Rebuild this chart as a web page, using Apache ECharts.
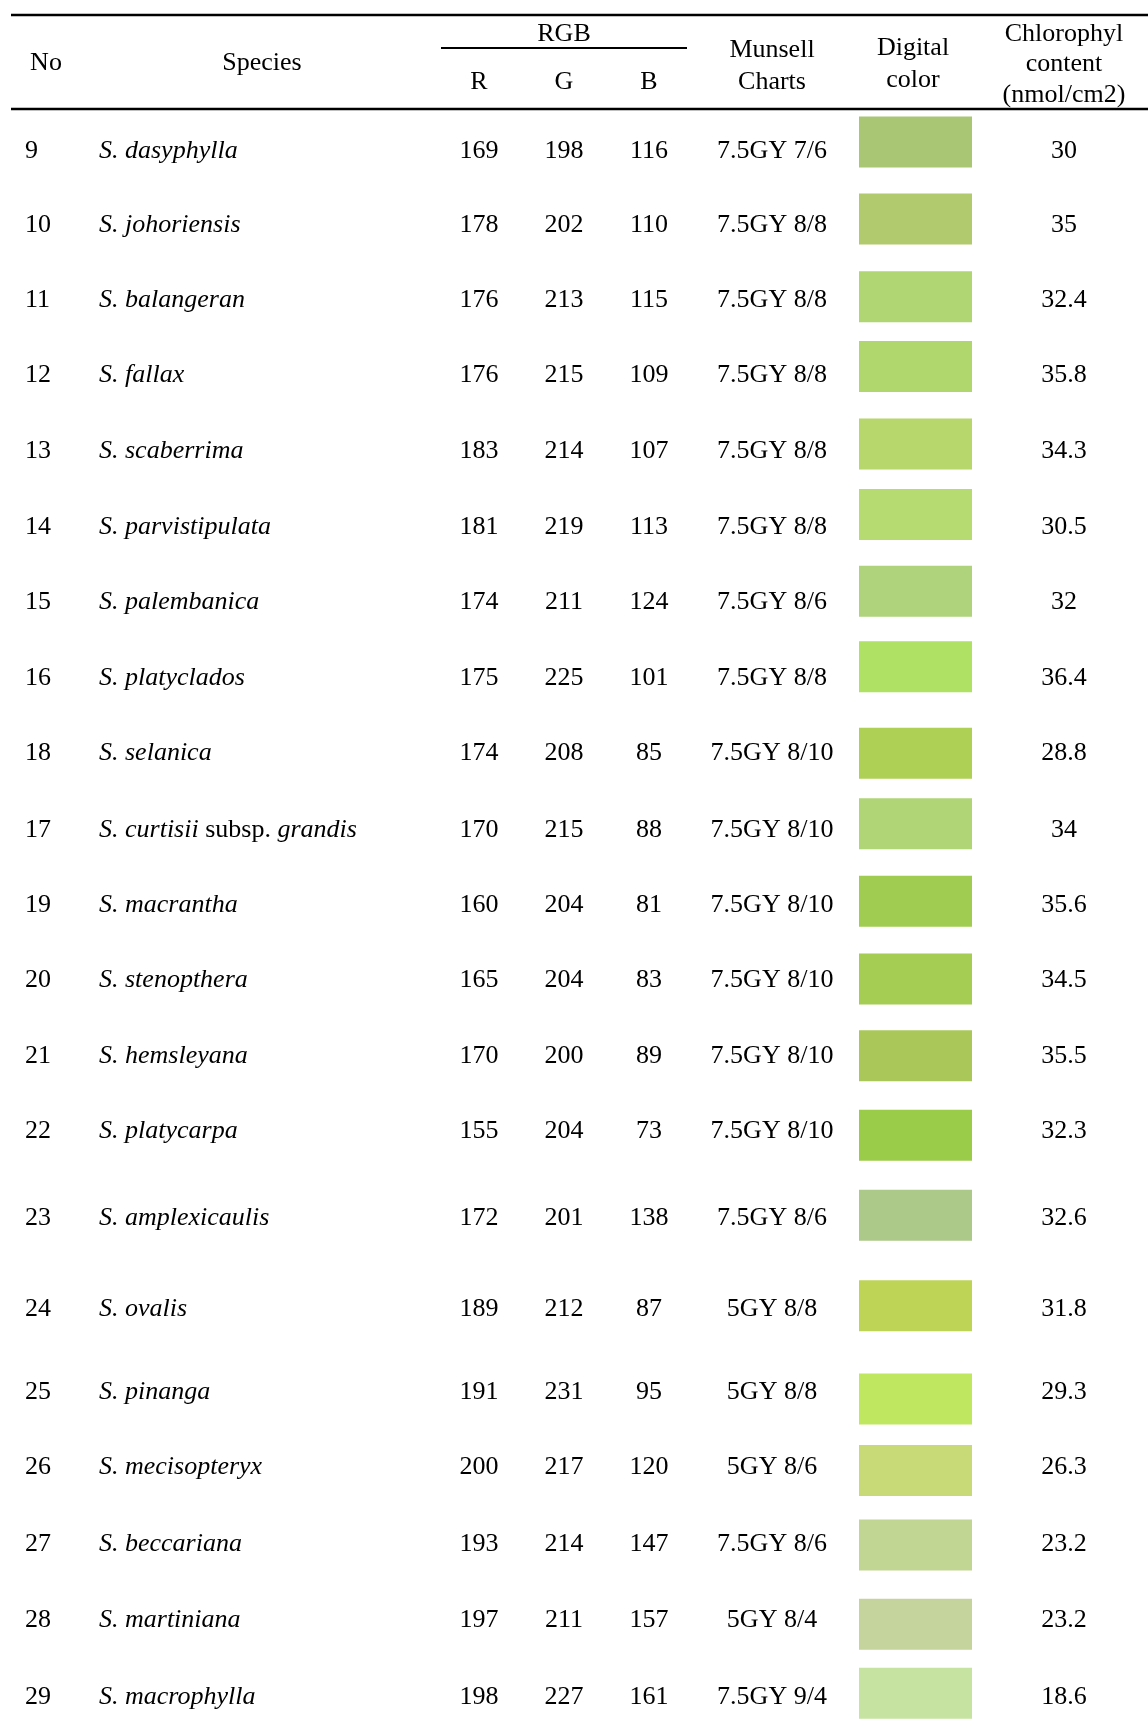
<!DOCTYPE html>
<html>
<head>
<meta charset="utf-8">
<script src="https://cdn.jsdelivr.net/npm/echarts@6/dist/echarts.min.js"></script>
<style>
html,body{margin:0;padding:0;background:#fff;}
#chart{width:1148px;height:1724px;}
</style>
</head>
<body>
<div id="chart"></div>
<script>
// ---- data ----
const nos = [9,10,11,12,13,14,15,16,18,17,19,20,21,22,23,24,25,26,27,28,29];
const species = ['S. dasyphylla','S. johoriensis','S. balangeran','S. fallax','S. scaberrima','S. parvistipulata','S. palembanica','S. platyclados','S. selanica','S. curtisii subsp. grandis','S. macrantha','S. stenopthera','S. hemsleyana','S. platycarpa','S. amplexicaulis','S. ovalis','S. pinanga','S. mecisopteryx','S. beccariana','S. martiniana','S. macrophylla'];
const R = [169,178,176,176,183,181,174,175,174,170,160,165,170,155,172,189,191,200,193,197,198];
const G = [198,202,213,215,214,219,211,225,208,215,204,204,200,204,201,212,231,217,214,211,227];
const B = [116,110,115,109,107,113,124,101,85,88,81,83,89,73,138,87,95,120,147,157,161];
const munsell = ['7.5GY 7/6','7.5GY 8/8','7.5GY 8/8','7.5GY 8/8','7.5GY 8/8','7.5GY 8/8','7.5GY 8/6','7.5GY 8/8','7.5GY 8/10','7.5GY 8/10','7.5GY 8/10','7.5GY 8/10','7.5GY 8/10','7.5GY 8/10','7.5GY 8/6','5GY 8/8','5GY 8/8','5GY 8/6','7.5GY 8/6','5GY 8/4','7.5GY 9/4'];
const chlorophyll = ['30','35','32.4','35.8','34.3','30.5','32','36.4','28.8','34','35.6','34.5','35.5','32.3','32.6','31.8','29.3','26.3','23.2','23.2','18.6'];
// swatch colours as seen in the picture where they differ from the RGB columns
const swatchOverride = [null,null,null,null,null,null,null,null,null,'#B0D576',null,null,null,null,null,null,null,null,null,null,null];

// ---- layout (row slots in row units, swatch vertical shifts in px) ----
const rowSlot = [0,0.98,1.98,2.97,3.97,4.98,5.97,6.97,7.97,8.98,9.98,10.97,11.97,12.97,14.12,15.33,16.42,17.42,18.43,19.44,20.46];
const swatchShift = [-7,-4,-2,-7,-5,-11,-9,-9,2,-4,-2,1,2,6,-1,-2,9,5,3,6,-2];

const W = 1148, H = 1724;
const ROW_PITCH = 75.58, FIRST_ROW_Y = 149, GRID_TOP = 111;
const TEXT_DY = 2;
const yMin = -(FIRST_ROW_Y - GRID_TOP) / ROW_PITCH;
const yMax = yMin + (H - GRID_TOP) / ROW_PITCH;
const FONT = '"Liberation Serif", "Times New Roman", serif';
const FS = 26;
const COL = {no: 25, species: 99, r: 479, g: 564, b: 649, munsell: 772, swatch0: 859, swatch1: 972, chl: 1064};
const SW_H = 51;

const chart = echarts.init(document.getElementById('chart'), null, {renderer: 'canvas'});

function hText(txt, x, y) {
  return {type: 'text', x: x, y: y + 1, silent: true,
    style: {text: txt, fill: '#000', font: FS + 'px ' + FONT, align: 'center', verticalAlign: 'middle'}};
}
function hLine(x1, y, x2, w) {
  return {type: 'line', silent: true, shape: {x1: x1, y1: y, x2: x2, y2: y}, style: {stroke: '#000', lineWidth: w}};
}

const graphics = [
  hLine(11, 15, W, 2.5),
  hLine(441, 48, 687, 2),
  hLine(11, 109, W, 2.5),
  hText('No', 46, 62.5),
  hText('Species', 262, 62.5),
  hText('RGB', 564, 33.5),
  hText('R', COL.r, 81),
  hText('G', COL.g, 81),
  hText('B', COL.b, 81),
  hText('Munsell', COL.munsell, 49),
  hText('Charts', COL.munsell, 81),
  hText('Digital', 913, 47.5),
  hText('color', 913, 79),
  hText('Chlorophyl', COL.chl, 33.5),
  hText('content', COL.chl, 63.5),
  hText('(nmol/cm2)', COL.chl, 94)
];

function speciesRich(s) {
  return s.split(' ').map(w => w === 'subsp.' ? '{n|' + w + '}' : '{i|' + w + '}').join(' ');
}

function cell(txt, x, y, align) {
  return {type: 'text', x: x, y: y,
    style: {text: txt, fill: '#000', font: FS + 'px ' + FONT, align: align || 'center', verticalAlign: 'middle'}};
}

const option = {
  backgroundColor: '#fff',
  animation: false,
  grid: {left: 0, right: 0, top: GRID_TOP, bottom: 0},
  xAxis: {type: 'value', min: 0, max: W, show: false},
  yAxis: {type: 'value', inverse: true, min: yMin, max: yMax, show: false},
  graphic: graphics,
  series: [{
    type: 'custom',
    silent: true,
    encode: {x: 0, y: 1},
    data: nos.map((n, i) => [0, rowSlot[i], i]),
    renderItem: function (params, api) {
      const i = api.value(2);
      const slot = api.value(1);
      const y = api.coord([0, slot])[1];
      const ty = y + TEXT_DY;
      const px = v => api.coord([v, slot])[0];
      const x0 = px(COL.swatch0), x1 = px(COL.swatch1);
      const sy = y + swatchShift[i] - SW_H / 2;
      const fill = swatchOverride[i] || ('rgb(' + R[i] + ',' + G[i] + ',' + B[i] + ')');
      return {
        type: 'group',
        children: [
          cell(String(nos[i]), px(COL.no), ty, 'left'),
          {type: 'text', x: px(COL.species), y: ty,
            style: {text: speciesRich(species[i]), fill: '#000', font: FS + 'px ' + FONT,
              align: 'left', verticalAlign: 'middle',
              rich: {
                i: {fontStyle: 'italic', fontFamily: FONT, fontSize: FS, fill: '#000'},
                n: {fontStyle: 'normal', fontFamily: FONT, fontSize: FS, fill: '#000'}
              }}},
          cell(String(R[i]), px(COL.r), ty),
          cell(String(G[i]), px(COL.g), ty),
          cell(String(B[i]), px(COL.b), ty),
          cell(munsell[i], px(COL.munsell), ty),
          {type: 'rect', shape: {x: x0, y: sy, width: x1 - x0, height: SW_H},
            style: {fill: fill}},
          cell(chlorophyll[i], px(COL.chl), ty)
        ]
      };
    }
  }]
};
chart.setOption(option);
</script>
</body>
</html>
